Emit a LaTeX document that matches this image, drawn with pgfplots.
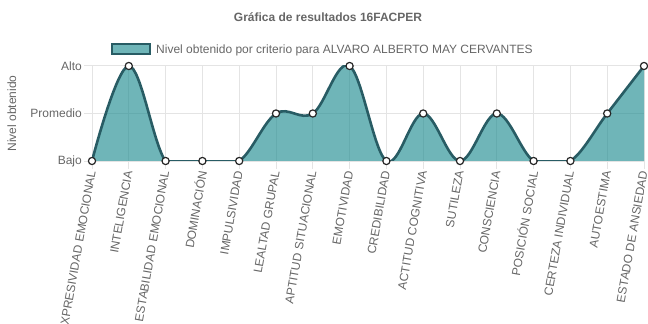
\documentclass[border=0pt]{standalone}
\usepackage{fontspec}
\setmainfont{Liberation Sans}
\usepackage{pgfplots}
\usepackage{pgfplotstable}
\pgfplotsset{compat=1.18}

\definecolor{txt}{HTML}{666666}
\definecolor{gridc}{HTML}{E4E4E4}
\definecolor{areafill}{RGB}{34,141,146}
\definecolor{arealine}{RGB}{40,92,100}

% level per criterion: 0 = Bajo, 1 = Promedio, 2 = Alto
\pgfplotstableread{
idx nivel
0  0
1  2
2  0
3  0
4  0
5  1
6  1
7  2
8  0
9  1
10 0
11 1
12 0
13 0
14 1
15 2
}\niveles

\begin{document}
\begin{tikzpicture}
\useasboundingbox (0,0) rectangle (648bp,324bp);
\begin{axis}[
  at={(92bp,163bp)}, anchor=south west,
  scale only axis, width=552bp, height=95bp,
  xmin=0, xmax=15, ymin=0, ymax=2,
  clip mode=individual,
  xtick={0,...,15},
  xticklabels={EXPRESIVIDAD EMOCIONAL, INTELIGENCIA, ESTABILIDAD EMOCIONAL, DOMINACIÓN, IMPULSIVIDAD, LEALTAD GRUPAL, APTITUD SITUACIONAL, EMOTIVIDAD, CREDIBILIDAD, ACTITUD COGNITIVA, SUTILEZA, CONSCIENCIA, POSICIÓN SOCIAL, CERTEZA INDIVIDUAL, AUTOESTIMA, ESTADO DE ANSIEDAD},
  ytick={0,1,2},
  yticklabels={Bajo, Promedio, Alto},
  tick pos=left, tick align=outside,
  major tick length=8bp,
  tick style={gridc, line width=1bp},
  grid=major,
  grid style={gridc, line width=1bp},
  axis line style={gridc, line width=1bp},
  ticklabel style={font=\fontsize{12bp}{14bp}\selectfont, text=txt},
  x tick label style={rotate=80, anchor=east, inner sep=2bp},
  y tick label style={inner sep=2bp},
  ylabel={Nivel obtenido},
  ylabel style={at={(axis description cs:-0.145,0.5)}, anchor=center, font=\fontsize{12bp}{14bp}\selectfont, text=txt},
  legend style={at={(axis description cs:0.0344,1.174)}, anchor=west, draw=none, fill=none, inner sep=0pt,
    font=\fontsize{12bp}{14bp}\selectfont, text=txt, legend cell align=left},
  legend image code/.code={
    \draw[fill=areafill!65!white, fill opacity=1, draw=arealine, line width=2bp] (0bp,-5bp) rectangle (38bp,5bp);
    \path (42bp,0bp);},
]
\addplot[draw=none, fill=areafill, fill opacity=0.65, smooth, tension=0.6] table[x=idx, y=nivel] {\niveles} \closedcycle;
\addlegendentry{Nivel obtenido por criterio para ALVARO ALBERTO MAY CERVANTES}
% stretches that stay at Bajo run straight along the baseline
\addplot[arealine, line width=1.6bp, forget plot] coordinates {(2,0) (4,0)};
\addplot[arealine, line width=1.6bp, forget plot] coordinates {(12,0) (13,0)};
\addplot[arealine, line width=2.6bp, smooth, tension=0.6, mark=*,
  mark size=3.6bp, mark options={fill=white, draw=black!85, line width=1.2bp}, forget plot]
  table[x=idx, y=nivel] {\niveles};
\end{axis}
\node[font=\bfseries\fontsize{12bp}{14bp}\selectfont, text=txt] at (328bp,307bp) {Gráfica de resultados 16FACPER};
\end{tikzpicture}
\end{document}
